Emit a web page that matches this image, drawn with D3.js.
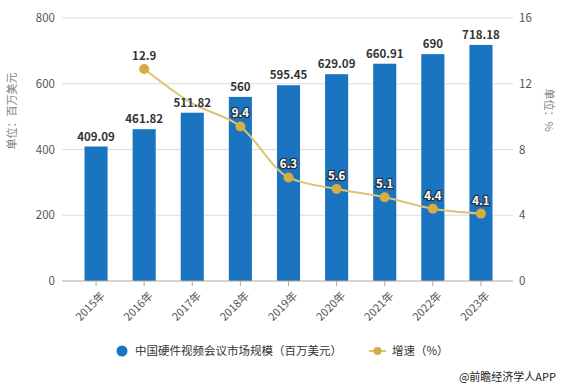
<!DOCTYPE html>
<html>
<head>
<meta charset="utf-8">
<script src="https://cdn.jsdelivr.net/npm/d3@7"></script>
<style>
  body { margin: 0; background: #fff; }
  svg { font-family: "Noto Sans CJK SC", "Noto Sans", sans-serif; }
</style>
</head>
<body>
<script>
// data
var years = ["2015年", "2016年", "2017年", "2018年", "2019年", "2020年", "2021年", "2022年", "2023年"];
var marketSize = [409.09, 461.82, 511.82, 560, 595.45, 629.09, 660.91, 690, 718.18];
// growth starts at 2016 (2017 point sits under the bar label)
var growthYears = ["2016年", "2017年", "2018年", "2019年", "2020年", "2021年", "2022年", "2023年"];
var growthVals = [12.9, 10.8, 9.4, 6.3, 5.6, 5.1, 4.4, 4.1];
var growthLabelShown = [true, false, true, true, true, true, true, true];
var leftTicks = [0, 200, 400, 600, 800];
var rightTicks = [0, 4, 8, 12, 16];

var svgWidth = 564, svgHeight = 387;
var plotTop = 18, plotBottom = 281, plotLeft = 62, plotRight = 513;

var svg = d3.select("body").append("svg")
  .attr("width", svgWidth)
  .attr("height", svgHeight);

var x = d3.scaleBand().domain(years).range([72, 505]).paddingInner(0.52).paddingOuter(0.26);
var y = d3.scaleLinear().domain([0, 800]).range([plotBottom, plotTop]);
var y2 = d3.scaleLinear().domain([0, 16]).range([plotBottom, plotTop]);

// gridlines
svg.append("g").selectAll("line")
  .data(leftTicks.slice(1))
  .enter().append("line")
  .attr("x1", plotLeft).attr("x2", plotRight)
  .attr("y1", d => y(d)).attr("y2", d => y(d))
  .attr("stroke", "#dcdcdc").attr("stroke-width", 1);

// left axis labels
svg.append("g").selectAll("text")
  .data(leftTicks)
  .enter().append("text")
  .attr("x", 55).attr("y", d => y(d) + 4)
  .attr("text-anchor", "end")
  .attr("font-size", 11.5)
  .attr("fill", "#555")
  .text(d => d);

// right axis labels
svg.append("g").selectAll("text")
  .data(rightTicks)
  .enter().append("text")
  .attr("x", 519).attr("y", d => y2(d) + 4)
  .attr("font-size", 11.5)
  .attr("fill", "#555")
  .text(d => d);

// axis titles
svg.append("text")
  .attr("transform", "translate(16,111) rotate(-90)")
  .attr("text-anchor", "middle")
  .attr("font-size", 11)
  .attr("fill", "#808080")
  .text("单位：百万美元");

svg.append("text")
  .attr("transform", "translate(545,110) rotate(90)")
  .attr("text-anchor", "middle")
  .attr("font-size", 11)
  .attr("fill", "#808080")
  .text("单位：%");

// bars
svg.append("g").selectAll("rect")
  .data(marketSize)
  .enter().append("rect")
  .attr("x", (d, i) => x(years[i]))
  .attr("y", d => y(d))
  .attr("width", x.bandwidth())
  .attr("height", d => plotBottom - y(d))
  .attr("fill", "#1a74bf");

// bottom axis
var xAxis = svg.append("g")
  .attr("transform", "translate(0," + plotBottom + ")");
xAxis.append("line")
  .attr("x1", plotLeft).attr("x2", plotRight)
  .attr("stroke", "#aaa");
xAxis.selectAll(".tk")
  .data(years)
  .enter().append("line")
  .attr("x1", d => x(d) + x.bandwidth() / 2)
  .attr("x2", d => x(d) + x.bandwidth() / 2)
  .attr("y1", 0).attr("y2", 5)
  .attr("stroke", "#aaa");
xAxis.selectAll("text")
  .data(years)
  .enter().append("text")
  .attr("transform", d => "translate(" + (x(d) + x.bandwidth() / 2 + 4) + ",10) rotate(-45)")
  .attr("text-anchor", "end")
  .attr("dy", "0.7em")
  .attr("font-size", 11)
  .attr("fill", "#555")
  .text(d => d);

// growth line
var cx = d => x(d) + x.bandwidth() / 2;
var line = d3.line()
  .x((d, i) => cx(growthYears[i]))
  .y(d => y2(d))
  .curve(d3.curveMonotoneX);

svg.append("path")
  .datum(growthVals)
  .attr("d", line)
  .attr("fill", "none")
  .attr("stroke", "#dfc273")
  .attr("stroke-width", 2);

svg.append("g").selectAll("circle")
  .data(growthVals)
  .enter().append("circle")
  .attr("cx", (d, i) => cx(growthYears[i]))
  .attr("cy", d => y2(d))
  .attr("r", 5)
  .attr("fill", "#d6ad40")
  .attr("visibility", (d, i) => growthLabelShown[i] ? "visible" : "hidden");

// bar labels
svg.append("g").selectAll("text")
  .data(marketSize)
  .enter().append("text")
  .attr("x", (d, i) => x(years[i]) + x.bandwidth() / 2)
  .attr("y", d => y(d) - 6)
  .attr("text-anchor", "middle")
  .attr("font-size", 11.5)
  .attr("font-weight", "bold")
  .attr("fill", "#333")
  .text(d => d);

svg.append("g").selectAll("text")
  .data(growthVals)
  .enter().filter((d, i) => growthLabelShown[i]).append("text")
  .attr("x", d => cx(growthYears[growthVals.indexOf(d)]))
  .attr("y", d => y2(d) - 9)
  .attr("text-anchor", "middle")
  .attr("font-size", 11.5)
  .attr("font-weight", "bold")
  .attr("fill", d => d == growthVals[0] ? "#333" : "#fff")
  .attr("stroke", d => d == growthVals[0] ? "none" : "#2a3340")
  .attr("stroke-width", 2.5)
  .attr("paint-order", "stroke")
  .text(d => d);

// legend
svg.append("circle")
  .attr("cx", 122).attr("cy", 351).attr("r", 5.5)
  .attr("fill", "#1a74bf");
svg.append("text")
  .attr("x", 135).attr("y", 355)
  .attr("font-size", 11.5).attr("fill", "#333")
  .text("中国硬件视频会议市场规模（百万美元）");

svg.append("line")
  .attr("x1", 369).attr("x2", 386).attr("y1", 351).attr("y2", 351)
  .attr("stroke", "#dfc273").attr("stroke-width", 2);
svg.append("circle")
  .attr("cx", 377.5).attr("cy", 351).attr("r", 4)
  .attr("fill", "#d6ad40");
svg.append("text")
  .attr("x", 392).attr("y", 355)
  .attr("font-size", 11.5).attr("fill", "#333")
  .text("增速（%）");

// source
svg.append("text")
  .attr("x", 556).attr("y", 381)
  .attr("text-anchor", "end")
  .attr("font-size", 11).attr("fill", "#222")
  .text("@前瞻经济学人APP");
</script>
</body>
</html>
